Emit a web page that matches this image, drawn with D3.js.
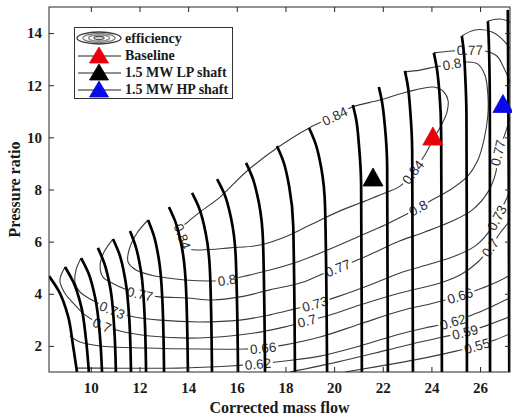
<!DOCTYPE html>
<html>
<head>
<meta charset="utf-8">
<script src="https://cdn.jsdelivr.net/npm/d3@7"></script>
<style>
  body { margin: 0; background: #fff; }
  svg { display: block; }
</style>
</head>
<body>
<svg id="chart" width="512" height="418"></svg>
<script>
// ---- axis ticks ----
const flowTicks = [10, 12, 14, 16, 18, 20, 22, 24, 26];
const prTicks = [2, 4, 6, 8, 10, 12, 14];

// ---- corrected speed lines: [corrected mass flow, pressure ratio], surge end first ----
const speedLines = [
  [[8.28, 4.68], [8.68, 4.11], [9.06, 3.15], [9.27, 2.00], [9.43, 1.00]],
  [[8.94, 5.03], [9.28, 4.45], [9.61, 3.49], [9.79, 2.34], [9.92, 1.00]],
  [[9.60, 5.37], [9.90, 4.80], [10.18, 3.84], [10.38, 2.30], [10.46, 1.00]],
  [[10.29, 5.76], [10.55, 5.18], [10.80, 4.22], [10.96, 2.69], [11.03, 1.00]],
  [[10.91, 6.10], [11.17, 5.53], [11.41, 4.57], [11.58, 3.03], [11.65, 1.00]],
  [[11.61, 6.41], [11.84, 5.83], [12.06, 4.87], [12.20, 3.34], [12.27, 1.00]],
  [[12.35, 6.83], [12.58, 6.26], [12.80, 5.30], [12.94, 3.76], [13.01, 1.00]],
  [[13.21, 7.33], [13.48, 6.75], [13.74, 5.79], [13.91, 4.26], [13.99, 1.00]],
  [[14.16, 7.87], [14.45, 7.29], [14.72, 6.33], [14.90, 4.80], [14.98, 1.00]],
  [[15.19, 8.40], [15.49, 7.83], [15.77, 6.87], [15.96, 5.33], [16.05, 1.00]],
  [[16.38, 9.02], [16.65, 8.44], [16.91, 7.48], [17.08, 5.95], [17.16, 1.00]],
  [[17.65, 9.67], [17.91, 9.09], [18.15, 8.13], [18.32, 6.60], [18.39, 1.00]],
  [[18.97, 10.36], [19.23, 9.78], [19.47, 8.83], [19.63, 7.29], [19.71, 1.00]],
  [[20.77, 11.24], [20.91, 10.67], [21.02, 9.71], [21.11, 8.17], [21.14, 1.00]],
  [[21.84, 11.93], [21.97, 11.36], [22.09, 10.40], [22.18, 8.86], [22.21, 1.00]],
  [[22.91, 12.55], [23.03, 11.97], [23.13, 11.01], [23.21, 9.48], [23.24, 1.00]],
  [[24.10, 13.24], [24.22, 12.66], [24.33, 11.70], [24.40, 10.17], [24.43, 1.00]],
  [[25.25, 13.89], [25.33, 13.31], [25.39, 12.35], [25.44, 10.82], [25.46, 1.00]],
  [[26.32, 14.46], [26.35, 13.89], [26.38, 12.93], [26.40, 11.40], [26.41, 1.00]],
  [[27.14, 14.89], [27.17, 10.00], [27.20, 1.00]]
];

// ---- isentropic efficiency contours: [corrected mass flow, pressure ratio] ----
const eff084 = [[14.49, 7.14], [14.03, 6.79], [13.71, 6.49], [13.83, 6.06], [14.08, 5.72], [14.49, 5.68], [15.72, 5.76], [16.95, 5.87], [17.98, 6.18], [19.01, 6.64], [20.24, 7.18], [21.06, 7.48], [21.88, 7.79], [22.71, 8.13], [23.24, 8.67], [23.73, 9.32], [24.06, 9.90], [24.39, 10.44], [24.64, 10.97], [24.68, 11.43], [24.47, 11.78], [24.10, 11.93], [22.99, 11.74], [21.88, 11.43], [20.77, 11.17], [20.03, 10.82], [18.97, 10.36], [17.65, 9.59], [16.42, 8.71], [15.31, 7.71]];
const eff080 = [[12.35, 6.83], [11.90, 6.33], [11.57, 5.68], [11.53, 5.22], [11.86, 4.91], [12.64, 4.68], [13.87, 4.53], [15.02, 4.49], [15.60, 4.53], [16.34, 4.68], [17.36, 4.91], [18.60, 5.26], [19.83, 5.72], [21.06, 6.22], [22.09, 6.64], [22.91, 7.02], [23.45, 7.29], [24.02, 7.60], [24.76, 7.98], [25.46, 8.48], [25.91, 9.13], [26.16, 9.90], [26.32, 10.86], [26.32, 11.63], [26.20, 12.39], [25.91, 12.81], [25.50, 12.89], [24.84, 12.81], [24.14, 12.70], [23.53, 12.58], [22.91, 12.51]];
const eff077 = [[10.91, 6.10], [10.54, 5.60], [10.38, 5.07], [10.50, 4.64], [10.87, 4.41], [11.40, 4.18], [12.02, 3.99], [12.84, 3.88], [13.95, 3.84], [15.02, 3.76], [16.13, 3.88], [17.36, 4.15], [18.60, 4.41], [19.42, 4.72], [20.16, 4.99], [21.06, 5.33], [21.88, 5.68], [22.71, 6.03], [23.73, 6.37], [24.76, 6.75], [25.67, 7.21], [26.32, 7.90], [26.65, 8.67], [26.73, 9.40], [26.94, 9.90], [27.14, 10.47], [27.35, 11.24], [27.26, 12.01], [26.94, 12.74], [26.69, 13.12], [26.20, 13.31], [25.58, 13.35], [24.84, 13.31], [24.10, 13.24]];
const eff073 = [[9.60, 5.37], [9.39, 4.91], [9.35, 4.45], [9.55, 4.07], [10.05, 3.76], [10.87, 3.38], [11.61, 3.15], [12.84, 2.99], [14.49, 2.92], [16.13, 2.99], [17.36, 3.19], [18.39, 3.42], [19.21, 3.61], [20.24, 3.92], [21.47, 4.34], [22.71, 4.80], [23.94, 5.14], [24.97, 5.45], [25.79, 5.83], [26.32, 6.33], [26.69, 6.91], [27.02, 7.52], [27.31, 8.13], [27.64, 9.52], [27.72, 11.82], [27.39, 13.12], [27.02, 13.66], [26.49, 14.04], [25.79, 14.12], [25.25, 13.89]];
const eff070 = [[8.94, 5.03], [8.73, 4.53], [8.90, 4.07], [9.23, 3.69], [9.76, 3.19], [10.46, 2.80], [11.20, 2.57], [12.43, 2.38], [14.08, 2.30], [15.72, 2.38], [16.95, 2.53], [17.98, 2.73], [18.88, 2.96], [19.83, 3.19], [21.06, 3.57], [22.71, 4.03], [24.35, 4.41], [25.25, 4.76], [25.91, 5.22], [26.41, 5.76], [26.82, 6.33], [27.31, 6.98], [27.72, 9.52], [27.72, 12.97], [27.31, 14.35], [26.82, 14.54], [26.32, 14.46]];
const eff066 = [[9.14, 2.38], [9.55, 2.15], [10.38, 2.00], [12.23, 1.92], [14.49, 1.88], [16.34, 1.88], [17.08, 1.92], [17.98, 2.04], [19.42, 2.34], [21.06, 2.84], [22.71, 3.34], [23.94, 3.61], [24.56, 3.76], [25.17, 3.92], [25.99, 4.18], [26.69, 4.45], [27.31, 4.76]];
const eff062 = [[9.39, 1.15], [10.38, 1.15], [13.58, 1.15], [15.72, 1.23], [16.87, 1.31], [17.98, 1.42], [19.42, 1.61], [21.06, 2.00], [22.71, 2.46], [23.73, 2.69], [24.35, 2.80], [24.88, 2.92], [25.87, 3.26], [26.61, 3.57], [27.31, 3.88]];
const eff059 = [[18.19, 1.00], [20.12, 1.38], [22.17, 1.84], [23.53, 2.15], [24.47, 2.34], [25.38, 2.53], [26.20, 2.76], [27.31, 3.15]];
const eff055 = [[20.45, 1.00], [22.83, 1.38], [23.94, 1.58], [25.05, 1.81], [25.87, 2.00], [26.61, 2.23], [27.31, 2.50]];

// inline contour label anchors (flow, pressure ratio)
const lab084 = [[13.79, 6.20], [20.03, 10.82], [23.24, 8.67]];
const lab080 = [[15.60, 4.53], [23.45, 7.29], [24.84, 12.81]];
const lab077 = [[12.02, 3.99], [20.16, 4.99], [26.73, 9.40], [25.58, 13.35]];
const lab073 = [[10.87, 3.38], [19.21, 3.61], [26.69, 6.91]];
const lab070 = [[10.46, 2.80], [18.88, 2.96], [26.41, 5.76]];
const lab066 = [[17.08, 1.92], [25.17, 3.92]];
const lab062 = [[16.87, 1.31], [24.88, 2.92]];
const lab059 = [[25.38, 2.53]];
const lab055 = [[25.87, 2.00]];

// ---- operating points ----
const pointNames = ["Baseline", "1.5 MW LP shaft", "1.5 MW HP shaft"];
const pointFlow = [24.06, 21.60, 26.94];
const pointPR = [10.05, 8.48, 11.30];
const pointColors = ["#e8000b", "#000000", "#0a0ae6"];

const legendLabels = ["efficiency", "Baseline", "1.5 MW LP shaft", "1.5 MW HP shaft"];

// ---- layout ----
const W = 512, H = 418;
const plot = { left: 49, right: 510, top: 7, bottom: 372 };
const x = d3.scaleLinear().domain([8.28, 27.23]).range([plot.left, plot.right]);
const y = d3.scaleLinear().domain([1, 15]).range([plot.bottom, plot.top]);

const serif = "'Liberation Serif','Times New Roman',serif";
const sans = "'Liberation Sans',Arial,Helvetica,sans-serif";
const axisColor = "#262626";

const svg = d3.select("#chart");
svg.append("rect").attr("width", W).attr("height", H).attr("fill", "#fff");
const defs = svg.append("defs");
defs.append("clipPath").attr("id", "plotClip")
  .append("rect")
  .attr("x", plot.left).attr("y", plot.top)
  .attr("width", plot.right - plot.left).attr("height", plot.bottom - plot.top);

const contourGroup = svg.append("g").attr("clip-path", "url(#plotClip)");
const labelGroup = svg.append("g").attr("clip-path", "url(#plotClip)");
const speedGroup = svg.append("g").attr("clip-path", "url(#plotClip)");

const contours = [
  { level: "0.84", pts: eff084, closed: true, labels: lab084 },
  { level: "0.8", pts: eff080, labels: lab080 },
  { level: "0.77", pts: eff077, labels: lab077 },
  { level: "0.73", pts: eff073, labels: lab073 },
  { level: "0.7", pts: eff070, labels: lab070 },
  { level: "0.66", pts: eff066, labels: lab066 },
  { level: "0.62", pts: eff062, labels: lab062 },
  { level: "0.59", pts: eff059, labels: lab059 },
  { level: "0.55", pts: eff055, labels: lab055 }
];

// efficiency contours, with gaps cut where the inline labels sit
contours.forEach((c, i) => {
  const gen = d3.line().x(d => x(d[0])).y(d => y(d[1]))
    .curve(c.closed ? d3.curveCatmullRomClosed.alpha(0.5) : d3.curveCatmullRom.alpha(0.5));
  const path = contourGroup.append("path")
    .attr("d", gen(c.pts))
    .attr("fill", "none")
    .attr("stroke", "#3b3b3b")
    .attr("stroke-width", 1.1);
  const node = path.node();
  const total = node.getTotalLength();

  const mask = defs.append("mask").attr("id", "gap" + i)
    .attr("maskUnits", "userSpaceOnUse")
    .attr("x", 0).attr("y", 0).attr("width", W).attr("height", H);
  mask.append("rect").attr("width", W).attr("height", H).attr("fill", "#fff");

  c.labels.forEach(p => {
    const px = x(p[0]), py = y(p[1]);
    let best = 0, bestD = Infinity;
    for (let s = 0; s <= total; s += 0.5) {
      const q = node.getPointAtLength(s);
      const d = (q.x - px) ** 2 + (q.y - py) ** 2;
      if (d < bestD) { bestD = d; best = s; }
    }
    const a = node.getPointAtLength(Math.max(0, best - 6));
    const b = node.getPointAtLength(Math.min(total, best + 6));
    let ang = Math.atan2(b.y - a.y, b.x - a.x) * 180 / Math.PI;
    if (ang > 90) ang -= 180;
    if (ang <= -90) ang += 180;
    const m = node.getPointAtLength(best);
    const tf = `translate(${m.x},${m.y}) rotate(${ang})`;
    const t = labelGroup.append("text")
      .attr("transform", tf)
      .attr("text-anchor", "middle")
      .attr("dy", "0.36em")
      .attr("font-family", sans)
      .attr("font-size", 13.5)
      .attr("fill", "#2e2e2e")
      .text(c.level);
    const w = t.node().getComputedTextLength();
    mask.append("rect")
      .attr("transform", tf)
      .attr("x", -w / 2 - 2).attr("y", -6)
      .attr("width", w + 4).attr("height", 12)
      .attr("fill", "#000");
  });
  path.attr("mask", `url(#gap${i})`);
});

// speed lines
const speedGen = d3.line().x(d => x(d[0])).y(d => y(d[1])).curve(d3.curveMonotoneY);
speedGroup.selectAll("path").data(speedLines).join("path")
  .attr("d", speedGen)
  .attr("fill", "none")
  .attr("stroke", "#000")
  .attr("stroke-width", 2.7);

// axes: ticks inward on all four sides
function styleAxis(g) {
  g.select(".domain").remove();
  g.selectAll(".tick line").attr("stroke", axisColor);
  g.selectAll(".tick text")
    .attr("font-family", serif)
    .attr("font-weight", "bold")
    .attr("font-size", 15)
    .attr("fill", "#1a1a1a");
}
svg.append("g").attr("transform", `translate(0,${plot.bottom})`)
  .call(d3.axisBottom(x).tickValues(flowTicks).tickSizeInner(-5).tickSizeOuter(0).tickPadding(10))
  .call(styleAxis);
svg.append("g").attr("transform", `translate(0,${plot.top})`)
  .call(d3.axisTop(x).tickValues(flowTicks).tickSizeInner(-5).tickSizeOuter(0).tickFormat(""))
  .call(styleAxis);
svg.append("g").attr("transform", `translate(${plot.left},0)`)
  .call(d3.axisLeft(y).tickValues(prTicks).tickSizeInner(-5).tickSizeOuter(0).tickPadding(7))
  .call(styleAxis);
svg.append("g").attr("transform", `translate(${plot.right},0)`)
  .call(d3.axisRight(y).tickValues(prTicks).tickSizeInner(-5).tickSizeOuter(0).tickFormat(""))
  .call(styleAxis);

svg.append("rect")
  .attr("x", plot.left).attr("y", plot.top)
  .attr("width", plot.right - plot.left).attr("height", plot.bottom - plot.top)
  .attr("fill", "none").attr("stroke", axisColor).attr("stroke-width", 1);

// axis titles
svg.append("text")
  .attr("x", (plot.left + plot.right) / 2).attr("y", 413)
  .attr("text-anchor", "middle")
  .attr("font-family", serif).attr("font-weight", "bold").attr("font-size", 16)
  .attr("fill", "#1a1a1a")
  .text("Corrected mass flow");
svg.append("text")
  .attr("transform", `translate(20,${(plot.top + plot.bottom) / 2}) rotate(-90)`)
  .attr("text-anchor", "middle")
  .attr("font-family", serif).attr("font-weight", "bold").attr("font-size", 16)
  .attr("fill", "#1a1a1a")
  .text("Pressure ratio");

// operating-point markers (upward triangles)
function triPath(w, h) {
  return `M0,${-h / 2}L${w / 2},${h / 2}L${-w / 2},${h / 2}Z`;
}
svg.append("g").selectAll("path").data(pointFlow).join("path")
  .attr("transform", (d, i) => `translate(${x(d)},${y(pointPR[i])})`)
  .attr("d", triPath(20, 18))
  .attr("fill", (d, i) => pointColors[i])
  .attr("stroke", (d, i) => pointColors[i])
  .attr("stroke-width", 0.8);

// legend
const lg = svg.append("g");
lg.append("rect")
  .attr("x", 74.5).attr("y", 27.5).attr("width", 158).attr("height", 71)
  .attr("fill", "#fff").attr("stroke", "#333").attr("stroke-width", 1);
const rowY = [38, 55, 72, 89];
const iconX = 99;
const rings = [[22, 6, "#3a3a3a"], [16, 4.4, "#777"], [10.5, 3, "#8a8a8a"], [5, 1.5, "#555"]];
rings.forEach(r => {
  lg.append("ellipse")
    .attr("cx", iconX).attr("cy", rowY[0]).attr("rx", r[0]).attr("ry", r[1])
    .attr("fill", "none").attr("stroke", r[2]).attr("stroke-width", 1.3);
});
pointNames.forEach((n, i) => {
  const yy = rowY[i + 1];
  lg.append("line").attr("x1", 78).attr("x2", 121).attr("y1", yy + 1).attr("y2", yy + 1)
    .attr("stroke", "#222").attr("stroke-width", 1);
  lg.append("path").attr("transform", `translate(${iconX},${yy})`)
    .attr("d", triPath(19, 16))
    .attr("fill", pointColors[i]).attr("stroke", pointColors[i]).attr("stroke-width", 0.8);
});
legendLabels.forEach((t, i) => {
  lg.append("text")
    .attr("x", 125).attr("y", rowY[i] + 4.8)
    .attr("font-family", serif).attr("font-weight", "bold").attr("font-size", 14)
    .attr("fill", "#1a1a1a")
    .text(t);
});
</script>
</body>
</html>
